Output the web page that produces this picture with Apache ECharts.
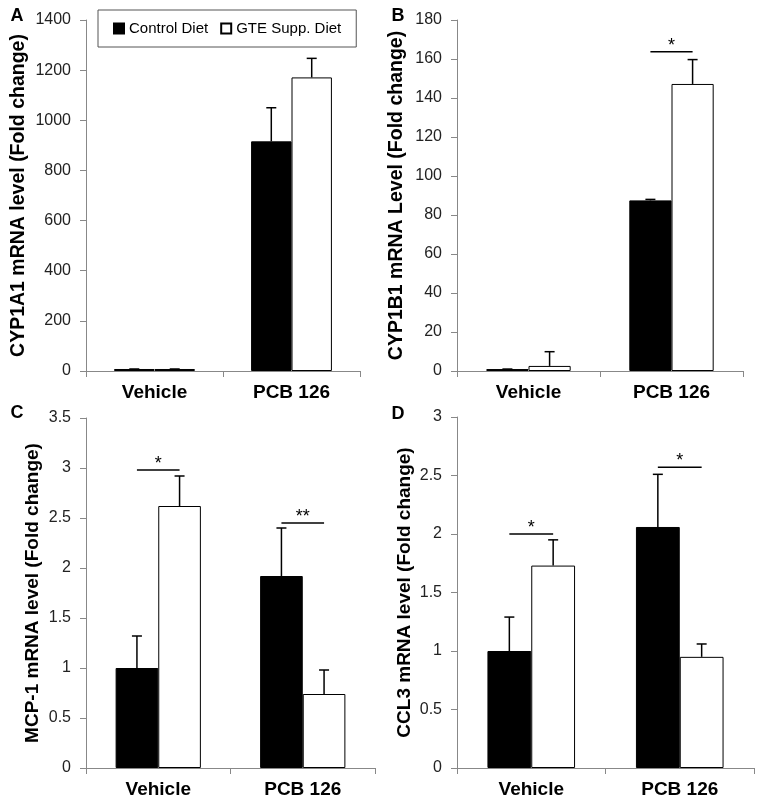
<!DOCTYPE html>
<html>
<head>
<meta charset="utf-8">
<script src="https://cdn.jsdelivr.net/npm/echarts@6/dist/echarts.min.js"></script>
<style>
html,body{margin:0;padding:0;background:#fff;}
#chart{width:762px;height:808px;}
</style>
</head>
<body>
<div id="chart"></div>
<script>
// ---- data ----
const categories = ['Vehicle', 'PCB 126'];
const seriesNames = ['Control Diet', 'GTE Supp. Diet'];
const panelLetters = ['A', 'B', 'C', 'D'];
const yTitles = ['CYP1A1 mRNA level (Fold change)', 'CYP1B1 mRNA Level (Fold change)', 'MCP-1 mRNA level (Fold change)', 'CCL3 mRNA level (Fold change)'];
const yMax = [1400, 180, 3.5, 3];
const yInterval = [200, 20, 0.5, 0.5];

const cyp1a1Control = [8, 916];
const cyp1a1ControlErr = [0, 134];
const cyp1a1Gte = [8, 1171];
const cyp1a1GteErr = [0, 76];

const cyp1b1Control = [1, 87.5];
const cyp1b1ControlErr = [0, 0.5];
const cyp1b1Gte = [2.6, 147.2];
const cyp1b1GteErr = [7.3, 12.5];

const mcp1Control = [1.0, 1.92];
const mcp1ControlErr = [0.32, 0.48];
const mcp1Gte = [2.62, 0.74];
const mcp1GteErr = [0.30, 0.24];

const ccl3Control = [1.0, 2.06];
const ccl3ControlErr = [0.29, 0.45];
const ccl3Gte = [1.73, 0.95];
const ccl3GteErr = [0.22, 0.11];

// significance brackets: [categoryIndex, level], labels
const sigA = [];
const sigALabels = [];
const sigB = [[1, 163.7]];
const sigBLabels = ['*'];
const sigC = [[0, 2.98], [1, 2.45]];
const sigCLabels = ['*', '**'];
const sigD = [[0, 2.0], [1, 2.57]];
const sigDLabels = ['*', '*'];

// ---- layout / build ----
const FONT = "'Liberation Sans', Arial, sans-serif";
const GAP = 0.41;
const panels = [
  {ctrl: cyp1a1Control, ctrlErr: cyp1a1ControlErr, gte: cyp1a1Gte, gteErr: cyp1a1GteErr, sig: sigA, sigLabels: sigALabels},
  {ctrl: cyp1b1Control, ctrlErr: cyp1b1ControlErr, gte: cyp1b1Gte, gteErr: cyp1b1GteErr, sig: sigB, sigLabels: sigBLabels},
  {ctrl: mcp1Control, ctrlErr: mcp1ControlErr, gte: mcp1Gte, gteErr: mcp1GteErr, sig: sigC, sigLabels: sigCLabels},
  {ctrl: ccl3Control, ctrlErr: ccl3ControlErr, gte: ccl3Gte, gteErr: ccl3GteErr, sig: sigD, sigLabels: sigDLabels}
];
const gridBoxes = [
  {left: 86, top: 20, width: 274, height: 351},
  {left: 457, top: 20, width: 286, height: 351},
  {left: 86, top: 418, width: 289, height: 350},
  {left: 457, top: 417, width: 297, height: 351}
];
const nameGaps = [57, 50, 44, 43];
const nameSizes = [19.5, 19.5, 19, 19];
const letterPos = [[17, 16], [398, 16], [17, 413], [398, 414]];

function errorRender(sign) {
  return function (params, api) {
    const cat = api.value(0), mean = api.value(1), top = api.value(2);
    const band = api.size([1, 0])[0];
    const bw = band * (1 - GAP) / 2;
    const c = api.coord([cat, mean]);
    const t = api.coord([cat, top]);
    const x = c[0] + sign * bw / 2;
    return {
      type: 'group',
      children: [
        {type: 'line', shape: {x1: x, y1: c[1], x2: x, y2: t[1]}, style: {stroke: '#000', lineWidth: 1.5}},
        {type: 'line', shape: {x1: x - 5, y1: t[1], x2: x + 5, y2: t[1]}, style: {stroke: '#000', lineWidth: 1.5}}
      ]
    };
  };
}
function sigRender(labels) {
  return function (params, api) {
    const cat = api.value(0), lvl = api.value(1);
    const band = api.size([1, 0])[0];
    const bw = band * (1 - GAP) / 2;
    const p = api.coord([cat, lvl]);
    return {
      type: 'group',
      children: [
        {type: 'line', shape: {x1: p[0] - bw / 2, y1: p[1], x2: p[0] + bw / 2, y2: p[1]}, style: {stroke: '#000', lineWidth: 1.5}},
        {type: 'text', x: p[0], y: p[1] + 3, style: {text: labels[params.dataIndex], fill: '#000', font: '18px ' + FONT, align: 'center', verticalAlign: 'bottom'}}
      ]
    };
  };
}

const grid = [], xAxis = [], yAxis = [], series = [], graphic = [];
panels.forEach((p, i) => {
  grid.push(Object.assign({containLabel: false}, gridBoxes[i]));
  xAxis.push({
    type: 'category', gridIndex: i, data: categories,
    axisLine: {lineStyle: {color: '#888', width: 1}},
    axisTick: {show: true, length: 6, lineStyle: {color: '#888'}},
    axisLabel: {color: '#000', fontSize: 19, fontWeight: 'bold', fontFamily: FONT, margin: 12}
  });
  yAxis.push({
    type: 'value', gridIndex: i, min: 0, max: yMax[i], interval: yInterval[i],
    name: yTitles[i], nameLocation: 'middle', nameGap: nameGaps[i],
    nameTextStyle: {color: '#000', fontSize: nameSizes[i], fontWeight: 'bold', fontFamily: FONT},
    splitLine: {show: false},
    axisLine: {show: true, lineStyle: {color: '#888', width: 1}},
    axisTick: {show: true, length: 6, lineStyle: {color: '#888'}},
    axisLabel: {color: '#222', fontSize: 16, fontFamily: FONT, margin: 15, formatter: v => String(v)}
  });
  series.push({
    type: 'bar', name: seriesNames[0], xAxisIndex: i, yAxisIndex: i,
    data: p.ctrl, barGap: '0%', barCategoryGap: (GAP * 100) + '%',
    itemStyle: {color: '#000', borderColor: '#000', borderWidth: 1},
    z: 2
  });
  series.push({
    type: 'bar', name: seriesNames[1], xAxisIndex: i, yAxisIndex: i,
    data: p.gte, barGap: '0%', barCategoryGap: (GAP * 100) + '%',
    itemStyle: {color: '#fff', borderColor: '#000', borderWidth: 1},
    z: 2
  });
  series.push({
    type: 'custom', xAxisIndex: i, yAxisIndex: i, z: 3,
    renderItem: errorRender(-1),
    data: p.ctrl.map((v, k) => [k, v, v + p.ctrlErr[k]])
  });
  series.push({
    type: 'custom', xAxisIndex: i, yAxisIndex: i, z: 3,
    renderItem: errorRender(1),
    data: p.gte.map((v, k) => [k, v, v + p.gteErr[k]])
  });
  if (p.sig.length) {
    series.push({
      type: 'custom', xAxisIndex: i, yAxisIndex: i, z: 3,
      renderItem: sigRender(p.sigLabels),
      data: p.sig
    });
  }
  graphic.push({
    type: 'text', x: letterPos[i][0], y: letterPos[i][1],
    style: {text: panelLetters[i], font: 'bold 18px ' + FONT, fill: '#000', align: 'center', verticalAlign: 'middle'}
  });
});

const chart = echarts.init(document.getElementById('chart'), null, {renderer: 'canvas'});
chart.setOption({
  backgroundColor: '#fff',
  animation: false,
  textStyle: {fontFamily: FONT},
  grid, xAxis, yAxis, series, graphic,
  legend: {
    data: seriesNames,
    left: 98, top: 10,
    padding: [11, 15, 11, 15],
    itemGap: 12, itemWidth: 10, itemHeight: 10,
    borderColor: '#555', borderWidth: 1,
    icon: 'rect',
    textStyle: {color: '#000', fontSize: 15, fontFamily: FONT}
  }
});
</script>
</body>
</html>
